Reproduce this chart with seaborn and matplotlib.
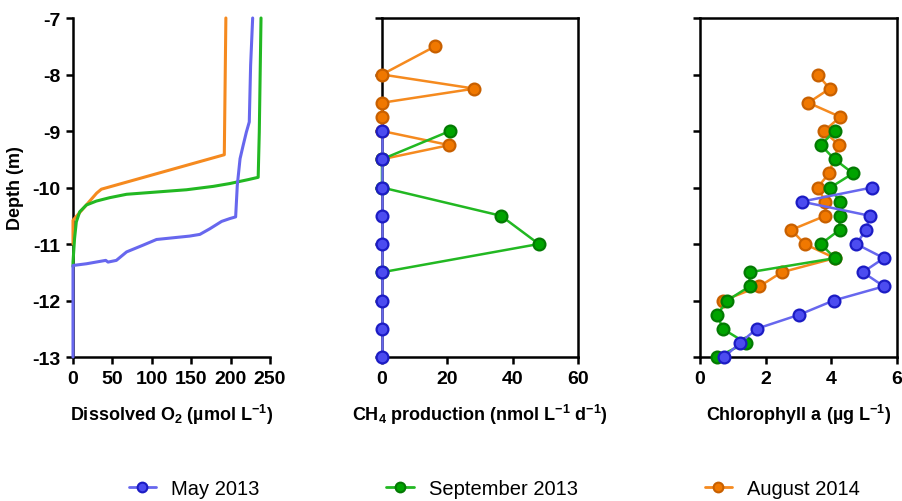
import numpy as np
import pandas as pd
import matplotlib
matplotlib.use("Agg")
import matplotlib.pyplot as plt
import seaborn as sns
from matplotlib.lines import Line2D

sns.set_style("ticks")
plt.rcParams['font.family'] = ['Liberation Sans', 'DejaVu Sans']
plt.rcParams['mathtext.fontset'] = 'custom'
plt.rcParams['mathtext.rm'] = 'Liberation Sans'
plt.rcParams['mathtext.bf'] = 'Liberation Sans:bold'
plt.rcParams['mathtext.default'] = 'bf'
plt.rcParams['axes.unicode_minus'] = False
for k in ['text.color', 'axes.labelcolor', 'xtick.color', 'ytick.color', 'axes.edgecolor']:
    plt.rcParams[k] = 'black'

series = ["May 2013", "September 2013", "August 2014"]
line_colors = {"May 2013": "#6767ee", "September 2013": "#22b822", "August 2014": "#f58a1f"}
face_colors = {"May 2013": "#4c4cf0", "September 2013": "#00a400", "August 2014": "#f07800"}
edge_colors = {"May 2013": "#1c1cc4", "September 2013": "#037a03", "August 2014": "#c86000"}

# Panel 1: dissolved O2 profiles
o2_may_x = [228, 225.4, 223.7, 220, 216, 212, 208.5, 206.4, 199, 188.6, 173.7, 161, 148, 106, 89, 68, 55, 44.5, 41.5, 17, 0, 0]
o2_may_y = [-7, -7.84, -8.84, -9.02, -9.25, -9.49, -9.96, -10.52, -10.55, -10.6, -10.73, -10.83, -10.86, -10.92, -11.02, -11.14, -11.29, -11.32, -11.29, -11.35, -11.38, -13]
o2_sep_x = [238.6, 237.5, 236.4, 235, 222.5, 199, 178, 144, 106, 68, 46.6, 29.7, 17, 8.5, 4.2, 2, 0, 0]
o2_sep_y = [-7, -8.0, -9.02, -9.82, -9.86, -9.93, -9.98, -10.04, -10.08, -10.12, -10.18, -10.24, -10.31, -10.43, -10.61, -10.9, -11.32, -11.4]
o2_aug_x = [194, 192, 36, 30, 0, 0]
o2_aug_y = [-7, -9.42, -10.03, -10.1, -10.58, -11.0]

# Panel 2: CH4 production
ch4_may_x = [0, 0, 0, 0, 0, 0, 0, 0, 0]
ch4_may_y = [-9, -9.5, -10, -10.5, -11, -11.5, -12, -12.5, -13]
ch4_sep_x = [20.8, 0, 0, 36.4, 48.0, 0]
ch4_sep_y = [-9, -9.5, -10, -10.5, -11, -11.5]
ch4_aug_x = [16.3, 0, 28.3, 0, 0, 0, 20.6, 0]
ch4_aug_y = [-7.5, -8, -8.25, -8.5, -8.75, -9, -9.25, -9.5]

# Panel 3: chlorophyll a
chl_may_x = [5.24, 3.10, 5.17, 5.06, 4.76, 5.60, 4.96, 5.60, 4.07, 3.03, 1.73, 1.22, 0.74]
chl_may_y = [-10, -10.25, -10.5, -10.75, -11, -11.25, -11.5, -11.75, -12, -12.25, -12.5, -12.75, -13]
chl_sep_x = [4.10, 3.68, 4.10, 4.66, 3.97, 4.25, 4.25, 4.25, 3.68, 4.11, 1.51, 1.51, 0.83, 0.53, 0.69, 1.39, 0.53]
chl_sep_y = [-9, -9.25, -9.5, -9.75, -10, -10.25, -10.5, -10.75, -11, -11.25, -11.5, -11.75, -12, -12.25, -12.5, -12.75, -13]
chl_aug_x = [3.58, 3.95, 3.30, 4.27, 3.78, 4.23, 3.93, 3.58, 3.82, 3.82, 2.78, 3.19, 4.11, 2.49, 1.81, 0.71]
chl_aug_y = [-8, -8.25, -8.5, -8.75, -9, -9.25, -9.75, -10, -10.25, -10.5, -10.75, -11, -11.25, -11.5, -11.75, -12]

o2 = {"May 2013": (o2_may_x, o2_may_y), "September 2013": (o2_sep_x, o2_sep_y), "August 2014": (o2_aug_x, o2_aug_y)}
ch4 = {"May 2013": (ch4_may_x, ch4_may_y), "September 2013": (ch4_sep_x, ch4_sep_y), "August 2014": (ch4_aug_x, ch4_aug_y)}
chl = {"May 2013": (chl_may_x, chl_may_y), "September 2013": (chl_sep_x, chl_sep_y), "August 2014": (chl_aug_x, chl_aug_y)}

fig = plt.figure(figsize=(9.02, 5.02), dpi=100)
W, H = 902, 502
def axpos(l, r):
    return [l / W, 1 - 358 / H, (r - l) / W, (358 - 19) / H]
ax1 = fig.add_axes(axpos(73, 270))
ax2 = fig.add_axes(axpos(382, 578))
ax3 = fig.add_axes(axpos(700, 897))

draw_order = ["August 2014", "September 2013", "May 2013"]

for i, s in enumerate(draw_order):
    x, y = o2[s]
    df = pd.DataFrame({"x": x, "y": y})
    sns.lineplot(data=df, x="x", y="y", sort=False, estimator=None, ax=ax1,
                 color=line_colors[s], linewidth=2.2, clip_on=False, zorder=3 + i)

for ax, d in [(ax2, ch4), (ax3, chl)]:
    for i, s in enumerate(draw_order):
        x, y = d[s]
        df = pd.DataFrame({"x": x, "y": y})
        sns.lineplot(data=df, x="x", y="y", sort=False, estimator=None, ax=ax,
                     color=line_colors[s], linewidth=1.8, marker="o", markersize=8.5,
                     markerfacecolor=face_colors[s], markeredgecolor=edge_colors[s],
                     markeredgewidth=1.6, clip_on=False, zorder=3 + i)

for ax in (ax1, ax2, ax3):
    ax.set_ylim(-13, -7)
    ax.set_yticks(np.arange(-13, -6, 1))
    ax.tick_params(axis="both", direction="out", length=5, width=1.8, pad=4, colors="black")
    for sp in ax.spines.values():
        sp.set_linewidth(1.8)
        sp.set_color("black")
    ax.set_ylabel("")
    lg = ax.get_legend()
    if lg is not None:
        lg.remove()

ax1.set_xlim(0, 250)
ax1.set_xticks([0, 50, 100, 150, 200, 250])
ax1.spines["top"].set_visible(False)
ax1.spines["right"].set_visible(False)
ax1.set_ylabel("Depth (m)", fontsize=13, fontweight="bold", labelpad=6)

ax2.set_xlim(0, 60)
ax2.set_xticks([0, 20, 40, 60])
ax2.tick_params(axis="y", labelleft=False)
ax3.set_xlim(0, 6)
ax3.set_xticks([0, 2, 4, 6])
ax3.tick_params(axis="y", labelleft=False)

for ax in (ax1, ax2, ax3):
    for lab in ax.get_xticklabels() + ax.get_yticklabels():
        lab.set_fontsize(14)
        lab.set_fontweight("bold")

ax1.set_xlabel(r"Dissolved O$_{2}$ (µmol L$^{-1}$)", fontsize=13, fontweight="bold", labelpad=11)
ax2.set_xlabel(r"CH$_{4}$ production (nmol L$^{-1}$ d$^{-1}$)", fontsize=13, fontweight="bold", labelpad=11)
ax3.set_xlabel(r"Chlorophyll a (µg L$^{-1}$)", fontsize=13, fontweight="bold", labelpad=11)

leg_handles = [Line2D([], [], color=line_colors[s], linewidth=2.0, marker="o", markersize=7,
                      markerfacecolor=face_colors[s], markeredgecolor=edge_colors[s], markeredgewidth=1.5)
               for s in series]
fig.legend(leg_handles, series, loc="center", bbox_to_anchor=(0.548, 0.025), ncol=3,
           frameon=False, fontsize=14.5, handlelength=1.35, handletextpad=0.75,
           columnspacing=6.3, borderaxespad=0)

fig.savefig("out.png", dpi=100)
